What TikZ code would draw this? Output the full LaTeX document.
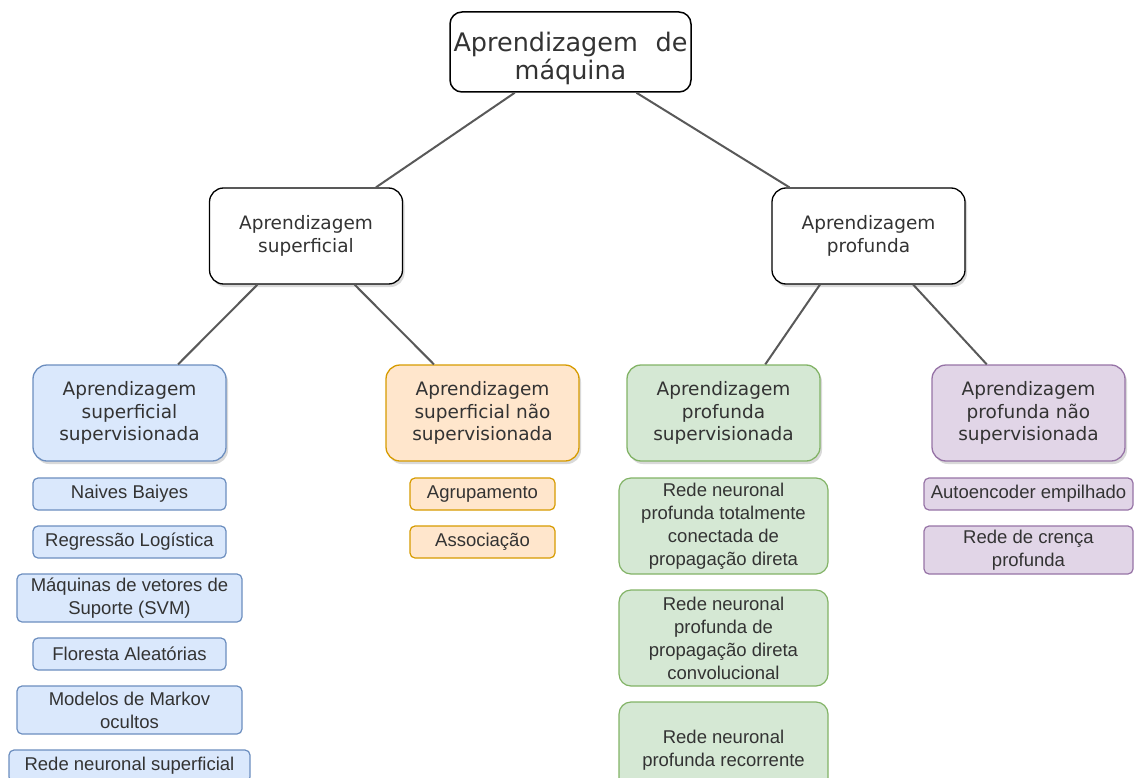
\documentclass[tikz,border=0pt]{standalone}
\usepackage{fontspec}
\setmainfont{DejaVu Sans}
\newfontfamily\leaffont{Liberation Sans}
\usetikzlibrary{calc,shadows}

\definecolor{edgegray}{HTML}{595959}
\definecolor{txt}{HTML}{333333}
\definecolor{bluefill}{HTML}{DAE8FC}\definecolor{bluedraw}{HTML}{6C8EBF}
\definecolor{orangefill}{HTML}{FFE6CC}\definecolor{orangedraw}{HTML}{D79B00}
\definecolor{greenfill}{HTML}{D5E8D4}\definecolor{greendraw}{HTML}{82B366}
\definecolor{purplefill}{HTML}{E1D5E7}\definecolor{purpledraw}{HTML}{9673A6}

\tikzset{
  box/.style={draw, align=center, text=txt, inner sep=0pt, anchor=center},
  softshadow/.style={drop shadow={shadow xshift=2pt, shadow yshift=-3pt, opacity=0.25, fill=black!60}},
  head/.style={box, softshadow, minimum width=193pt, minimum height=96pt,
    rounded corners=14pt, line width=1.3pt,
    font=\fontsize{18.5}{22.5}\selectfont},
  topbox/.style={head, draw=black, fill=white},
  leaf/.style={box, rounded corners=5pt, line width=1.2pt,
    font=\leaffont\fontsize{18.5}{23}\selectfont},
  bigleaf/.style={leaf, rounded corners=12pt},
  blueC/.style={fill=bluefill, draw=bluedraw},
  orangeC/.style={fill=orangefill, draw=orangedraw},
  greenC/.style={fill=greenfill, draw=greendraw},
  purpleC/.style={fill=purplefill, draw=purpledraw},
  link/.style={draw=edgegray, line width=2pt},
}

\begin{document}
\begin{tikzpicture}[x=1pt, y=-1pt]
\useasboundingbox (0,0) rectangle (1139,778);
\clip (0,0) rectangle (1139,778);

% root (the strut lowers the two lines inside the box)
\node[box, draw=black, fill=white, line width=1.5pt, rounded corners=12pt,
      minimum width=241pt, minimum height=80pt,
      font=\fontsize{25.5}{28.5}\selectfont] (root) at (570.5,52)
  {\makebox[234pt]{\rule{0pt}{32pt}Aprendizagem\hfill de}\\m\'aquina};

% first level
\node[topbox] (sup)  at (306,236)   {Aprendizagem\\superficial};
\node[topbox] (prof) at (868.5,236) {Aprendizagem\\profunda};

% second level
\node[head, blueC]   (supS)  at (129.5,413)  {Aprendizagem\\superficial\\supervisionada};
\node[head, orangeC] (supN)  at (482.5,413)  {Aprendizagem\\superficial não\\supervisionada};
\node[head, greenC]  (profS) at (723.5,413)  {Aprendizagem\\profunda\\supervisionada};
\node[head, purpleC] (profN) at (1028.5,413) {Aprendizagem\\profunda não\\supervisionada};

% shallow supervised methods
\node[leaf, blueC, minimum width=193pt, minimum height=32pt] (nb)  at (129.5,494) {Naives Baiyes};
\node[leaf, blueC, minimum width=193pt, minimum height=32pt] (rl)  at (129.5,542) {Regressão Logística};
\node[leaf, blueC, minimum width=225pt, minimum height=48pt] (svm) at (129.5,598) {Máquinas de vetores de\\Suporte (SVM)};
\node[leaf, blueC, minimum width=193pt, minimum height=32pt] (fa)  at (129.5,654) {Floresta Aleatórias};
\node[leaf, blueC, minimum width=225pt, minimum height=48pt] (hmm) at (129.5,710) {Modelos de Markov\\ocultos};
\node[leaf, blueC, minimum width=241pt, minimum height=32pt] (rns) at (129.5,766) {Rede neuronal superficial};

% shallow unsupervised methods
\node[leaf, orangeC, minimum width=145pt, minimum height=32pt] (agr) at (482.5,494) {Agrupamento};
\node[leaf, orangeC, minimum width=145pt, minimum height=32pt] (ass) at (482.5,542) {Associação};

% deep supervised methods
\node[bigleaf, greenC, minimum width=209pt, minimum height=96pt] (ff)  at (723.5,526) {Rede neuronal\\profunda totalmente\\conectada de\\propagação direta};
\node[bigleaf, greenC, minimum width=209pt, minimum height=96pt] (cnn) at (723.5,638) {Rede neuronal\\profunda de\\propagação direta\\convolucional};
\node[bigleaf, greenC, minimum width=209pt, minimum height=96pt] (rnn) at (723.5,750) {Rede neuronal\\profunda recorrente};

% deep unsupervised methods
\node[leaf, purpleC, minimum width=209pt, minimum height=32pt] (ae)  at (1028.5,494) {Autoencoder empilhado};
\node[leaf, purpleC, minimum width=209pt, minimum height=48pt] (dbn) at (1028.5,550) {Rede de crença\\profunda};

% connectors
\draw[link] ($(root.south west)!0.27!(root.south east)$) -- ($(sup.north west)!0.86!(sup.north east)$);
\draw[link] ($(root.south west)!0.772!(root.south east)$) -- ($(prof.north west)!0.093!(prof.north east)$);
\draw[link] ($(sup.south west)!0.25!(sup.south east)$) -- ($(supS.north west)!0.75!(supS.north east)$);
\draw[link] ($(sup.south west)!0.75!(sup.south east)$) -- ($(supN.north west)!0.25!(supN.north east)$);
\draw[link] ($(prof.south west)!0.25!(prof.south east)$) -- ($(profS.north west)!0.715!(profS.north east)$);
\draw[link] ($(prof.south west)!0.73!(prof.south east)$) -- ($(profN.north west)!0.285!(profN.north east)$);
\end{tikzpicture}
\end{document}
